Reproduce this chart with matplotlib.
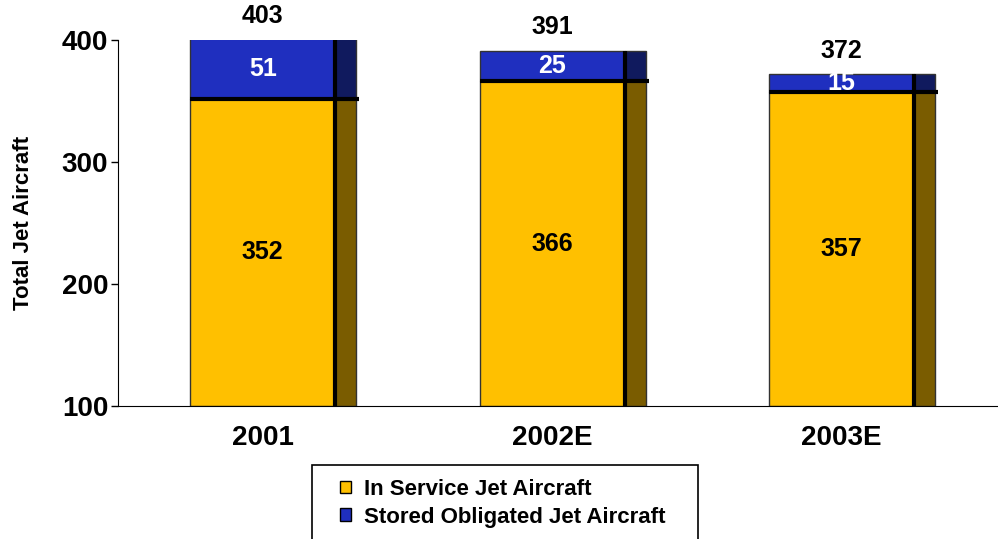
import matplotlib.pyplot as plt
from matplotlib.patches import Patch, Rectangle

# Values
years = ['2001', '2002E', '2003E']
in_service = [352, 366, 357]
stored = [51, 25, 15]
totals = [403, 391, 372]

yellow, yellow_side = '#FFC000', '#7A5C00'
blue, blue_side = '#1F2FBF', '#101A5E'

plt.rcParams['font.family'] = ['Liberation Sans', 'DejaVu Sans']

fig = plt.figure(figsize=(9.98, 5.39), dpi=100)
ax = fig.add_axes([118 / 998, 133 / 539, 880 / 998, 366 / 539])

x = list(range(len(years)))
w = 0.5       # front face width
side = 0.073  # depth face width
ymin, ymax = 100, 400

# front faces
ax.bar(x, [v - ymin for v in in_service], bottom=ymin, width=w, color=yellow,
       edgecolor='#333333', linewidth=1, zorder=2)
ax.bar(x, stored, bottom=in_service, width=w, color=blue,
       edgecolor='#333333', linewidth=1, zorder=2)

# side faces
sx = [i + w / 2 for i in x]
ax.bar(sx, [v - ymin for v in in_service], bottom=ymin, width=side, align='edge',
       color=yellow_side, edgecolor='#333333', linewidth=1, zorder=2)
ax.bar(sx, stored, bottom=in_service, width=side, align='edge',
       color=blue_side, edgecolor='#333333', linewidth=1, zorder=2)

# heavy divider lines
tops = [min(t, ymax) for t in totals]
ax.vlines(sx, ymin, tops, colors='black', linewidth=3, zorder=3)
ax.hlines(in_service, [i - w / 2 for i in x], [i + w / 2 + side + 0.01 for i in x],
          colors='black', linewidth=3, zorder=3)

# labels
for i in x:
    ax.text(i, (ymin + in_service[i]) / 2, str(in_service[i]), ha='center', va='center',
            fontsize=18, fontweight='bold', color='black', zorder=4)
    ax.text(i, (in_service[i] + tops[i]) / 2, str(stored[i]), ha='center', va='center',
            fontsize=18, fontweight='bold', color='white', zorder=4)
    ax.annotate(str(totals[i]), (i, tops[i]), xytext=(0, 17), textcoords='offset points',
                ha='center', va='center', fontsize=18, fontweight='bold',
                annotation_clip=False)

ax.set_xlim(-0.5, 2.54)
ax.set_ylim(ymin, ymax)
ax.set_yticks([100, 200, 300, 400])
ax.set_xticks(x)
ax.set_xticklabels(years)
for lab in ax.get_xticklabels() + ax.get_yticklabels():
    lab.set_fontweight('bold')
ax.tick_params(axis='x', length=0, pad=14, labelsize=20)
ax.tick_params(axis='y', length=5, width=1, pad=2, labelsize=20)
ax.spines['top'].set_visible(False)
ax.spines['right'].set_visible(False)
ax.set_ylabel('Total Jet Aircraft', fontsize=16, fontweight='bold', labelpad=20)

# legend box, cut by the bottom edge of the picture
fig.patches.append(Rectangle((312 / 998, -0.1), 386 / 998, 74 / 539 + 0.1,
                             transform=fig.transFigure, fill=False,
                             edgecolor='black', linewidth=1.2))
handles = [Patch(facecolor=yellow, edgecolor='black', label='In Service Jet Aircraft'),
           Patch(facecolor=blue, edgecolor='black', label='Stored Obligated Jet Aircraft')]
fig.legend(handles=handles, loc='upper left', bbox_to_anchor=(340 / 998, 1 - 479 / 539),
           prop={'weight': 'bold', 'size': 16}, frameon=False,
           handlelength=0.5, handleheight=0.5, handletextpad=0.6,
           borderpad=0, borderaxespad=0, labelspacing=0.3)

fig.savefig('out.png', dpi=100)
